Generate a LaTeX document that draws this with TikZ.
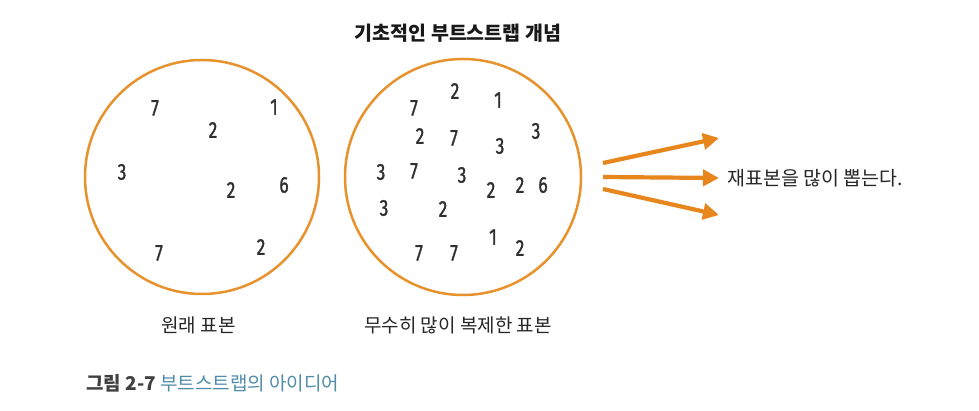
\documentclass[tikz,border=0pt]{standalone}
\usepackage{fontspec}
\usetikzlibrary{arrows.meta}
\newfontfamily\kr{Noto Sans CJK KR}
\newfontfamily\digitfont[FakeStretch=0.76,FakeBold=1.2]{Fira Sans}
\definecolor{ringor}{HTML}{E8922E}
\definecolor{arrowor}{HTML}{E8861E}
\definecolor{digitgray}{HTML}{303030}
\definecolor{captgray}{HTML}{404040}
\definecolor{captblue}{HTML}{4F8CA8}
\begin{document}
\begin{tikzpicture}[x=1pt,y=-1pt,
  ring/.style={draw=ringor,line width=2.5pt},
  dig/.style={text=digitgray,inner sep=0pt,font=\digitfont\fontsize{23}{23}\selectfont},
  krlabel/.style={text=black!85,inner sep=0pt,font=\kr\fontsize{19}{19}\selectfont},
  bigarrow/.style={draw=arrowor,line width=4.2pt,-{Triangle[length=16pt,width=16pt]}}
]
\useasboundingbox (0,0) rectangle (979,411);
\fill[white] (0,0) rectangle (979,411);

% title
\node[krlabel,font=\kr\bfseries\fontsize{19.5}{19.5}\selectfont,text=black!90] (title) at (458,33) {기초적인 부트스트랩 개념};

% circles
\node[ring,circle,minimum size=234pt,inner sep=0pt] (orig) at (202,177) {};
\node[ring,circle,minimum size=236pt,inner sep=0pt] (boot) at (463,177) {};

% original sample digits
\node[dig] (o1) at (155,108) {7};
\node[dig] (o2) at (274,107) {1};
\node[dig] (o3) at (213,130) {2};
\node[dig] (o4) at (122,172) {3};
\node[dig] (o5) at (231,190) {2};
\node[dig] (o6) at (284,185) {6};
\node[dig] (o7) at (159,253) {7};
\node[dig] (o8) at (261,247) {2};

% bootstrap digits
\node[dig] (b1) at (455,91) {2};
\node[dig] (b2) at (414,108) {7};
\node[dig] (b3) at (498,100) {1};
\node[dig] (b4) at (420,136) {2};
\node[dig] (b5) at (454,138) {7};
\node[dig] (b6) at (500,146) {3};
\node[dig] (b7) at (536,131) {3};
\node[dig] (b8) at (381,172) {3};
\node[dig] (b9) at (414,171) {7};
\node[dig] (b10) at (462,175) {3};
\node[dig] (b11) at (491,190) {2};
\node[dig] (b12) at (520,185) {2};
\node[dig] (b13) at (543,185) {6};
\node[dig] (b14) at (384,208) {3};
\node[dig] (b15) at (443,209) {2};
\node[dig] (b16) at (493,237) {1};
\node[dig] (b17) at (520,248) {2};
\node[dig] (b18) at (419,253) {7};
\node[dig] (b19) at (454,253) {7};

% labels
\node[krlabel] (lorig) at (198.5,325) {원래 표본};
\node[krlabel] (lboot) at (458,325) {무수히 많이 복제한 표본};

% arrows
\node[krlabel,anchor=west,font=\kr\fontsize{19.5}{19.5}\selectfont] (resample) at (727,178) {재표본을 많이 뽑는다.};
\coordinate (s1) at (603,163);
\coordinate (s2) at (603,177);
\coordinate (s3) at (603,189);
\coordinate (e1) at (719,138);
\coordinate (e2) at (719,178);
\coordinate (e3) at (719,215);
\draw[bigarrow] (s1) -- (e1);
\draw[bigarrow] (s2) -- (e2);
\draw[bigarrow] (s3) -- (e3);

% caption
\node[anchor=west,inner sep=0pt,font=\kr\fontsize{19}{19}\selectfont] (cap) at (86,383)
  {{\bfseries\color{captgray}그림 2-7} \textcolor{captblue}{부트스트랩의 아이디어}};
\end{tikzpicture}
\end{document}
